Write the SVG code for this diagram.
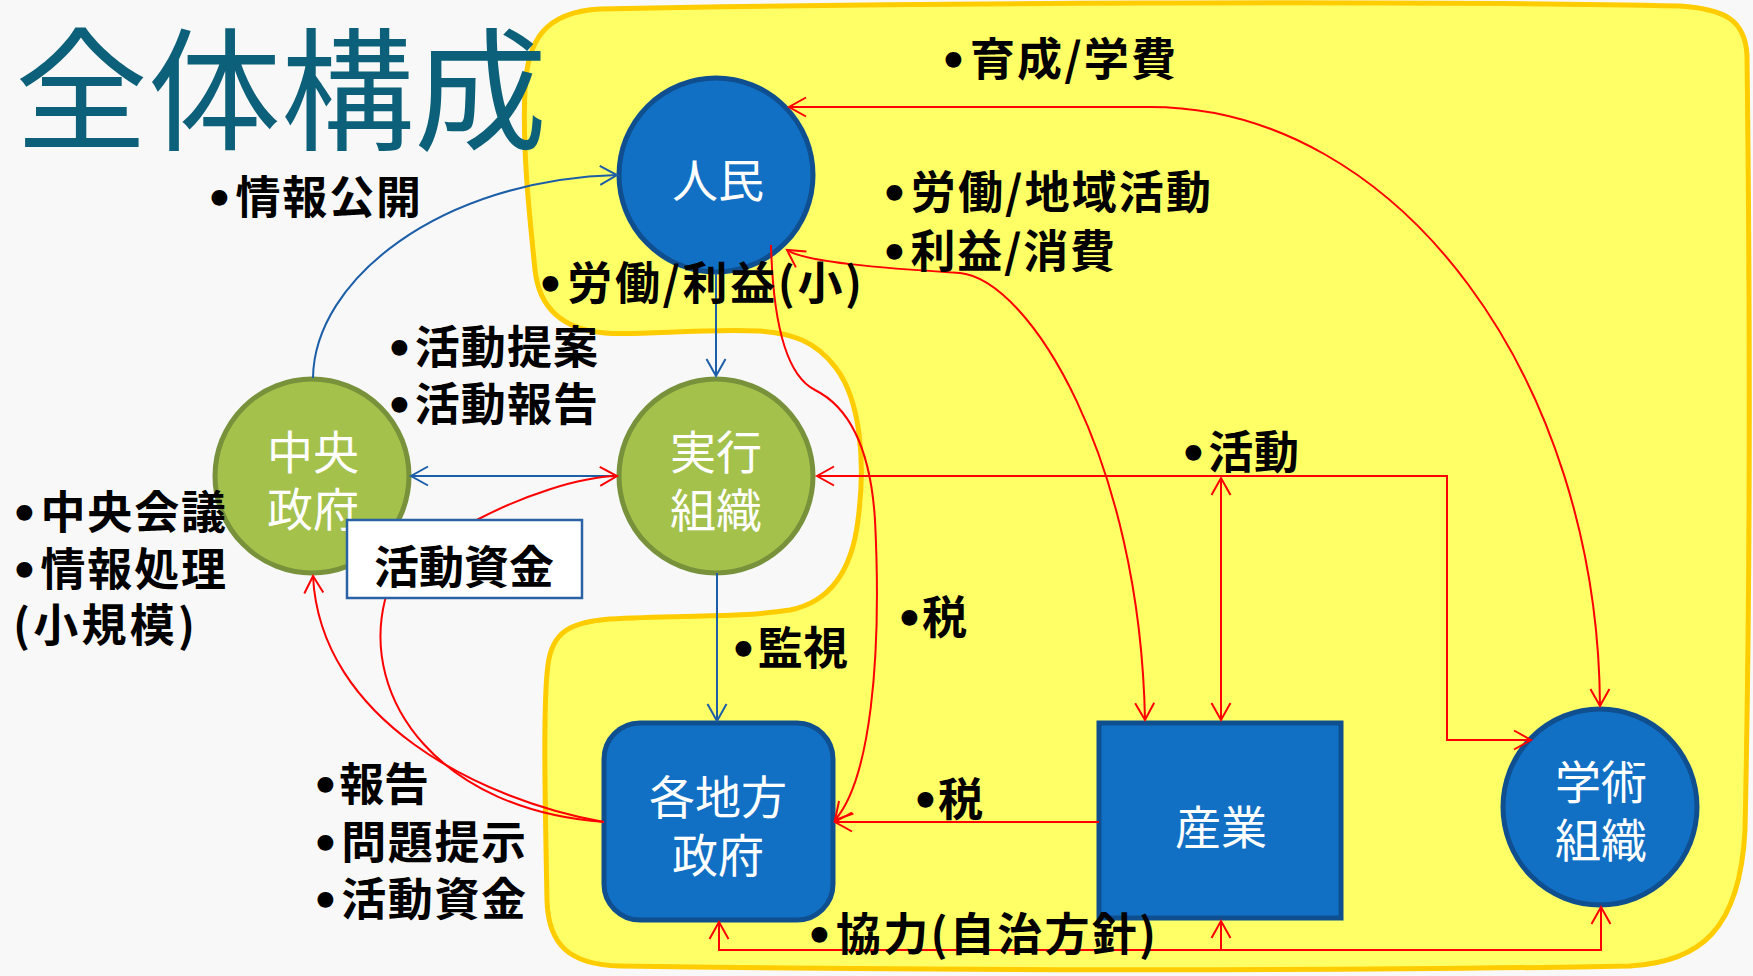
<svg xmlns="http://www.w3.org/2000/svg" width="1753" height="976" viewBox="0 0 1753 976">
<defs>
<style>
.lb{font-family:"Noto Sans CJK JP","Noto Sans CJK SC",sans-serif;font-size:45px;font-weight:700;fill:#000}
.bu{font-family:"DejaVu Sans",sans-serif;font-weight:700}
.nt{font-family:"Noto Sans CJK JP","Noto Sans CJK SC",sans-serif;font-size:46px;fill:#fff;text-anchor:middle}
.bl{fill:#1170c4;stroke:#0f4f8f;stroke-width:5}
.gr{fill:#a4c14b;stroke:#77923b;stroke-width:5}
.cr{fill:none;stroke:#ff0000;stroke-width:2}
.cb{fill:none;stroke:#1d5ea8;stroke-width:2}
</style>
<marker id="mr" markerUnits="userSpaceOnUse" markerWidth="26" markerHeight="26" viewBox="-22 -13 26 26" refX="0" refY="0" orient="auto-start-reverse" overflow="visible">
<path d="M-17,-9.5 L0,0 L-17,9.5" fill="none" stroke="#ff0000" stroke-width="2"/>
</marker>
<marker id="mb" markerUnits="userSpaceOnUse" markerWidth="26" markerHeight="26" viewBox="-22 -13 26 26" refX="0" refY="0" orient="auto-start-reverse" overflow="visible">
<path d="M-17,-9.5 L0,0 L-17,9.5" fill="none" stroke="#1d5ea8" stroke-width="2"/>
</marker>
</defs>
<rect width="1753" height="976" fill="#f8f8f8"/>
<g id="region">
<path d="M 600,9 C 900,3 1400,0 1680,6 C 1725,9 1745,20 1747,55 C 1750,300 1750,600 1745,830 C 1740,930 1700,962 1630,966 C 1300,972 900,970 620,966 C 570,965 548,945 547,900 C 545,800 543,700 548,665 C 552,632 570,622 610,619 C 680,615 740,618 790,610 C 830,602 852,570 858,520 C 866,460 860,400 836,368 C 815,340 790,333 760,331 C 700,328 640,336 605,333 C 570,330 540,315 535,270 C 530,220 522,150 525,90 C 527,40 545,12 600,9 Z" fill="#ffff66" stroke="#ffcc00" stroke-width="5"/>
</g>
<g id="title">
<text x="15" y="140" font-family="Noto Sans CJK JP, Noto Sans CJK SC, sans-serif" font-size="133" fill="#0c6079">全体構成</text>
</g>
<g id="node-jinmin">
<circle class="bl" cx="716" cy="175" r="97"/>
<text class="nt" x="718" y="197">人民</text>
</g>
<g id="node-chuo">
<circle class="gr" cx="312" cy="476" r="97"/>
<text class="nt" x="313" y="469">中央</text>
<text class="nt" x="313" y="526">政府</text>
</g>
<g id="node-jikko">
<circle class="gr" cx="716" cy="476" r="97"/>
<text class="nt" x="716" y="469">実行</text>
<text class="nt" x="716" y="527">組織</text>
</g>
<g id="node-chiho">
<rect class="bl" x="604" y="723" width="229" height="197" rx="36"/>
<text class="nt" x="718" y="814">各地方</text>
<text class="nt" x="718" y="872">政府</text>
</g>
<g id="node-sangyo">
<rect class="bl" x="1099" y="723" width="242" height="195"/>
<text class="nt" x="1221" y="844">産業</text>
</g>
<g id="node-gakujutsu">
<ellipse class="bl" cx="1600" cy="807" rx="97" ry="98"/>
<text class="nt" x="1601" y="799">学術</text>
<text class="nt" x="1601" y="857">組織</text>
</g>
<g id="connectors">
<path class="cb" d="M 313,378 C 314,280 440,180 617,175" marker-end="url(#mb)"/>
<path class="cb" d="M 716,273 L 716,376" marker-end="url(#mb)"/>
<path class="cb" d="M 617,476 L 411,476" marker-end="url(#mb)"/>
<path class="cb" d="M 717,573 L 717,721" marker-end="url(#mb)"/>
<path class="cr" d="M 1600,706 C 1598,380 1400,107 1150,107 L 789,107" marker-start="url(#mr)" marker-end="url(#mr)"/>
<path class="cr" d="M 787,250 C 805,262 880,268 960,273 C 1030,280 1140,460 1145,720" marker-start="url(#mr)" marker-end="url(#mr)"/>
<path class="cr" d="M 771,245 C 773,320 785,375 815,390 C 845,405 870,440 875,520 C 882,660 870,780 835,820" marker-end="url(#mr)"/>
<path class="cr" d="M 817,476 H 1447 V 740 H 1531" marker-start="url(#mr)" marker-end="url(#mr)"/>
<path class="cr" d="M 1221,478 V 720" marker-start="url(#mr)" marker-end="url(#mr)"/>
<path class="cr" d="M 1099,822 H 835" marker-end="url(#mr)"/>
<path class="cr" d="M 604,822 C 480,800 320,720 313,576" marker-end="url(#mr)"/>
<path class="cr" d="M 604,822 C 440,810 360,700 385,600 C 397,550 540,478 617,476" marker-end="url(#mr)"/>
<path class="cr" d="M 719,922 V 950 H 1601 V 907" marker-start="url(#mr)" marker-end="url(#mr)"/>
<path class="cr" d="M 1221,950 V 921" marker-end="url(#mr)"/>
</g>
<g id="label-box">
<rect x="347" y="520" width="235" height="78" fill="#ffffff" stroke="#2a62a6" stroke-width="2.5"/>
<text class="lb" x="464" y="584" text-anchor="middle" font-size="46">活動資金</text>
</g>
<g id="labels">
<text class="lb" x="205" y="214" textLength="216" lengthAdjust="spacing"><tspan class="bu">•</tspan>情報公開</text>
<text class="lb" x="939" y="76" textLength="237" lengthAdjust="spacing"><tspan class="bu">•</tspan>育成/学費</text>
<text class="lb" x="880" y="209" textLength="331" lengthAdjust="spacing"><tspan class="bu">•</tspan>労働/地域活動</text>
<text class="lb" x="880" y="268" textLength="235" lengthAdjust="spacing"><tspan class="bu">•</tspan>利益/消費</text>
<text class="lb" x="536" y="300" textLength="326" lengthAdjust="spacing"><tspan class="bu">•</tspan>労働/利益(小)</text>
<text class="lb" x="385" y="364" textLength="213" lengthAdjust="spacing"><tspan class="bu">•</tspan>活動提案</text>
<text class="lb" x="385" y="421" textLength="213" lengthAdjust="spacing"><tspan class="bu">•</tspan>活動報告</text>
<text class="lb" x="10" y="529" textLength="216" lengthAdjust="spacing"><tspan class="bu">•</tspan>中央会議</text>
<text class="lb" x="10" y="586" textLength="216" lengthAdjust="spacing"><tspan class="bu">•</tspan>情報処理</text>
<text class="lb" x="13" y="642" textLength="182" lengthAdjust="spacing">(小規模)</text>
<text class="lb" x="729" y="665" textLength="119" lengthAdjust="spacing"><tspan class="bu">•</tspan>監視</text>
<text class="lb" x="895" y="634" textLength="72" lengthAdjust="spacing"><tspan class="bu">•</tspan>税</text>
<text class="lb" x="1179" y="469" textLength="120" lengthAdjust="spacing"><tspan class="bu">•</tspan>活動</text>
<text class="lb" x="311" y="801" textLength="118" lengthAdjust="spacing"><tspan class="bu">•</tspan>報告</text>
<text class="lb" x="311" y="859" textLength="215" lengthAdjust="spacing"><tspan class="bu">•</tspan>問題提示</text>
<text class="lb" x="311" y="916" textLength="215" lengthAdjust="spacing"><tspan class="bu">•</tspan>活動資金</text>
<text class="lb" x="911" y="816" textLength="72" lengthAdjust="spacing"><tspan class="bu">•</tspan>税</text>
<text class="lb" x="805" y="951" textLength="351" lengthAdjust="spacing"><tspan class="bu">•</tspan>協力(自治方針)</text>
</g>
</svg>
